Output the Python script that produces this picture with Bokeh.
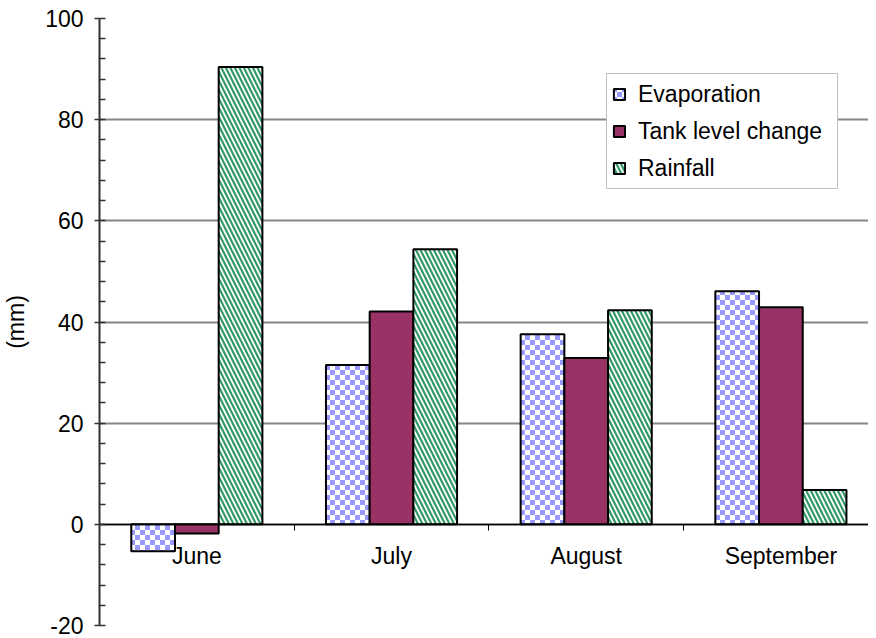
import zlib, struct, base64
from bokeh.plotting import figure
from bokeh.models import (ColumnDataSource, Range1d, SingleIntervalTicker, FixedTicker,
                          Legend, LegendItem, ImageURLTexture)
from bokeh.core.properties import value
from bokeh.transform import dodge
from bokeh.embed import file_html
from bokeh.resources import INLINE

# ---- data ----
months = ["June", "July", "August", "September"]
evaporation = [-5.3, 31.5, 37.6, 46.1]
tank_level_change = [-1.8, 42.1, 32.9, 42.9]
rainfall = [90.4, 54.4, 42.3, 6.8]
series_names = ["Evaporation", "Tank level change", "Rainfall"]
y_label = "(mm)"
y_ticks = [-20, 0, 20, 40, 60, 80, 100]
y_tick_labels = ["-20", "0", "20", "40", "60", "80", "100"]

FONT = "Liberation Sans"
FS = "23px"

# ---- checker texture (PNG built in memory) ----
def make_png(w, h, pix):
    raw = b"".join(b"\x00" + bytes(c for px in row for c in px) for row in pix)
    def chunk(t, d):
        return struct.pack(">I", len(d)) + t + d + struct.pack(">I", zlib.crc32(t + d) & 0xffffffff)
    return (b"\x89PNG\r\n\x1a\n" + chunk(b"IHDR", struct.pack(">IIBBBBB", w, h, 8, 2, 0, 0, 0))
            + chunk(b"IDAT", zlib.compress(raw)) + chunk(b"IEND", b""))

cell = 5
blue = (153, 153, 255)
white = (255, 255, 255)
pix = [[blue if ((xx // cell) + (yy // cell)) % 2 == 0 else white for xx in range(2 * cell)]
       for yy in range(2 * cell)]
checker_url = "data:image/png;base64," + base64.b64encode(make_png(2 * cell, 2 * cell, pix)).decode()
checker = ImageURLTexture(url=checker_url, repetition="repeat")

centers = [i + 0.5 for i in range(len(months))]
boundaries = [i for i in range(len(months) + 1)]
bar_w = 0.2245

src = ColumnDataSource(dict(x=centers, month=months, evap=evaporation,
                            tank=tank_level_change, rain=rainfall))

p = figure(width=868, height=638, x_range=Range1d(0, 3.95), y_range=Range1d(-20, 100),
           output_backend="svg", toolbar_location=None,
           min_border_left=94, min_border_right=0, min_border_top=18, min_border_bottom=13)
p.outline_line_color = None
p.background_fill_color = "white"
p.border_fill_color = "white"

# grid
p.xgrid.visible = False
p.ygrid.grid_line_color = "#868686"
p.ygrid.grid_line_width = 2

# y axis
ya = p.yaxis[0]
ya.ticker = SingleIntervalTicker(interval=20, num_minor_ticks=5)
ya.major_label_overrides = {t: s for t, s in zip(y_ticks, y_tick_labels)}
ya.axis_line_color = "#333333"
ya.axis_line_width = 2
ya.major_tick_out = 5
ya.major_tick_in = 0
ya.major_tick_line_color = "#333333"
ya.major_tick_line_width = 1.5
ya.minor_tick_in = 6
ya.minor_tick_out = 0
ya.minor_tick_line_color = "#333333"
ya.minor_tick_line_width = 1.5
ya.major_label_standoff = 11
ya.major_label_text_font = FONT
ya.major_label_text_font_size = FS
ya.major_label_text_color = "black"
ya.axis_label = y_label
ya.axis_label_text_font = FONT
ya.axis_label_text_font_size = FS
ya.axis_label_text_font_style = "normal"
ya.axis_label_text_color = "black"
ya.axis_label_standoff = 13

# x axis at zero
xa = p.xaxis[0]
xa.fixed_location = 0
overrides = {}
for c, m in zip(centers, months):
    overrides[c] = m
    overrides[str(c)] = m
xa.ticker = FixedTicker(ticks=centers, minor_ticks=boundaries)
xa.major_label_overrides = overrides
xa.major_tick_out = 0
xa.major_tick_in = 0
xa.minor_tick_out = 6
xa.minor_tick_in = 0
xa.minor_tick_line_color = "black"
xa.minor_tick_line_width = 1
xa.axis_line_color = "black"
xa.axis_line_width = 1.5
xa.major_label_standoff = 13
xa.major_label_text_font = FONT
xa.major_label_text_font_size = FS
xa.major_label_text_color = "black"

# bars
r_evap = p.vbar(x=dodge("x", -bar_w), top="evap", bottom=0, width=bar_w, source=src,
                fill_color="white", line_color="black", line_width=2,
                hatch_pattern=value("checker"), hatch_extra={"checker": checker})
r_tank = p.vbar(x="x", top="tank", bottom=0, width=bar_w, source=src,
                fill_color="#993366", line_color="black", line_width=2)
r_rain = p.vbar(x=dodge("x", bar_w), top="rain", bottom=0, width=bar_w, source=src,
                fill_color="white", line_color="black", line_width=2,
                hatch_pattern="left_diagonal_line", hatch_color="#339966",
                hatch_weight=2.2, hatch_scale=9)

legend = Legend(items=[LegendItem(label=n, renderers=[r])
                       for n, r in zip(series_names, [r_evap, r_tank, r_rain])],
                location=(507, 436), orientation="vertical")
legend.border_line_color = "#808080"
legend.border_line_width = 1.5
legend.background_fill_color = "white"
legend.background_fill_alpha = 1
legend.padding = 5
legend.spacing = 7
legend.margin = 0
legend.label_height = 30
legend.label_width = 194
legend.glyph_width = 14
legend.glyph_height = 14
legend.label_standoff = 12
legend.label_text_font = FONT
legend.label_text_font_size = FS
legend.label_text_color = "black"
p.add_layout(legend)

open("out.html", "w").write(file_html(p, INLINE))
